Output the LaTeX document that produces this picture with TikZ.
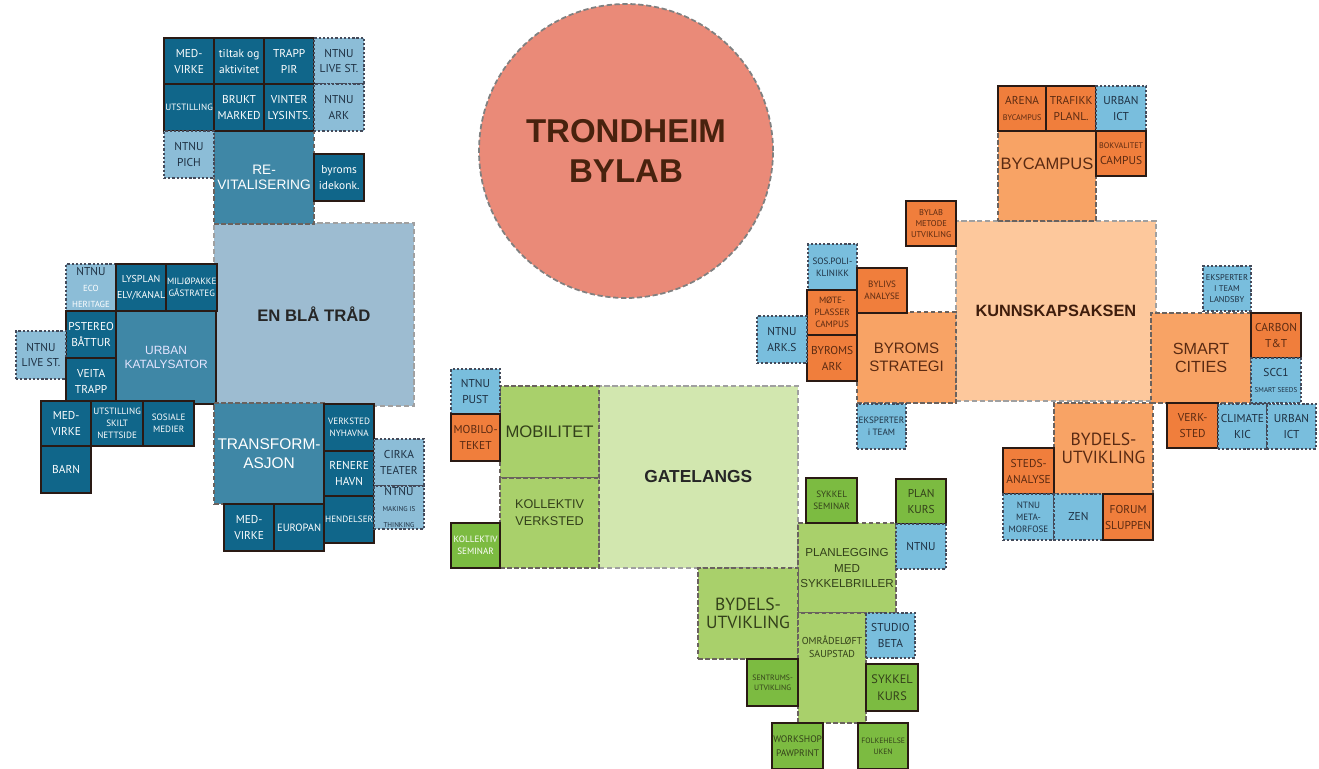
\documentclass[tikz,border=0pt]{standalone}
\usepackage{fontspec}
\setmainfont{Liberation Sans}
\newfontfamily\myriad{PT Sans}
\usepackage{tikz}
\usetikzlibrary{shapes}

\definecolor{blueDark}{HTML}{10668A}
\definecolor{blueMid}{HTML}{3F87A6}
\definecolor{bluePale}{HTML}{8CBDD7}
\definecolor{blueGrey}{HTML}{9DBCD1}
\definecolor{skyBlue}{HTML}{79BEDD}
\definecolor{orangeDark}{HTML}{F07E3C}
\definecolor{orangeMid}{HTML}{F8A365}
\definecolor{orangePale}{HTML}{FDC89C}
\definecolor{salmon}{HTML}{EA8A78}
\definecolor{greenDark}{HTML}{7CBB41}
\definecolor{greenMid}{HTML}{A9D06B}
\definecolor{greenPale}{HTML}{D2E7AF}
\definecolor{edgeDark}{HTML}{2A1A14}
\definecolor{edgeDot}{HTML}{434A5A}
\definecolor{edgeDash}{HTML}{6A625E}
\definecolor{edgeLight}{HTML}{A0A0A0}
\definecolor{textBrown}{HTML}{5A2A12}
\definecolor{textNavy}{HTML}{1E3042}
\definecolor{textOlive}{HTML}{33401A}

\begin{document}
\begin{tikzpicture}[
    x=0.02cm, y=-0.02cm,
    cell/.style 2 args={minimum width=#1*0.02cm, minimum height=#2*0.02cm},
    every node/.style={
        align=center, anchor=north west, inner sep=0.5pt,
        font=\myriad\fontsize{6.5}{9}\selectfont,
        },
    tinyText/.style={font=\myriad\fontsize{5.2}{6.8}\selectfont},
    solidBox/.style={draw=edgeDark, line width=1.3pt},
    dotBox/.style={draw=edgeDot, line width=1.1pt, dash pattern=on 1.3pt off 1.1pt},
    dashBox/.style={draw=edgeDash, line width=1.2pt, dash pattern=on 2.6pt off 1.4pt},
    paleBox/.style={draw=edgeLight, line width=1pt, dash pattern=on 3pt off 1.5pt},
    darkBlue/.style={solidBox, fill=blueDark, text=white},
    paleBlue/.style={dotBox, fill=bluePale, text=textNavy},
    midBlue/.style={dashBox, fill=blueMid, text=white},
    sky/.style={dotBox, fill=skyBlue, text=textNavy},
    darkOrange/.style={solidBox, fill=orangeDark, text=textBrown},
    midOrange/.style={dashBox, fill=orangeMid, text=textBrown},
    darkGreen/.style={solidBox, fill=greenDark, text=textOlive},
    midGreen/.style={dashBox, fill=greenMid, text=textOlive},
    bigLabel/.style={font=\bfseries\fontsize{9.5}{11}\selectfont},
    ]
    \useasboundingbox (0,0) rectangle (1319,768);

    % title circle
    \node[circle, anchor=center, minimum size=294*0.02cm, fill=salmon, draw=edgeLight!80!black, line width=1pt, dash pattern=on 3pt off 1.5pt, text=textBrown!80!black, font=\bfseries\fontsize{18.8}{23}\selectfont] (bylab) at (626,151) {TRONDHEIM\\BYLAB};

    % en blaa traad
    \node[paleBox, cell={200}{183}, fill=blueGrey, text=black!85, bigLabel] (blaTrad) at (213,222) {EN BLÅ TRÅD};
    \node[midBlue, cell={100}{93}, font=\fontsize{7.8}{8.8}\selectfont] (revital) at (213,130) {RE-\\VITALISERING};
    \node[solidBox, fill=blueMid, text=white!90!blue, cell={100}{93}, font=\fontsize{6.8}{8}\selectfont] (urbanKat) at (115,310) {URBAN\\KATALYSATOR};
    \node[midBlue, cell={110}{101}, font=\fontsize{8.8}{10.4}\selectfont] (transform) at (213,402) {TRANSFORM-\\ASJON};

    \node[darkBlue, cell={50}{46}] (medvirkeA) at (163,37) {MED-\\VIRKE};
    \node[darkBlue, cell={50}{46}] (tiltak) at (213,37) {tiltak og\\aktivitet};
    \node[darkBlue, cell={50}{46}] (trappPir) at (263,37) {TRAPP\\PIR};
    \node[paleBlue, cell={50}{46}] (liveStA) at (313,37) {NTNU\\LIVE ST.};
    \node[darkBlue, cell={50}{47}, tinyText] (utstillingA) at (163,83) {UTSTILLING};
    \node[darkBlue, cell={50}{47}] (bruktMarked) at (213,83) {BRUKT\\MARKED};
    \node[darkBlue, cell={50}{47}] (vinter) at (263,83) {VINTER\\LYSINTS.};
    \node[paleBlue, cell={50}{47}] (ntnuArk) at (313,83) {NTNU\\ARK};
    \node[paleBlue, cell={50}{47}] (ntnuPich) at (163,130) {NTNU\\PICH};
    \node[darkBlue, cell={50}{47}] (byroms) at (313,153) {byroms\\idekonk.};

    \node[paleBlue, cell={50}{47}] (ecoHeritage) at (65,263) {NTNU\\\textcolor{white}{\fontsize{5}{6.5}\selectfont ECO}\\\textcolor{white}{\fontsize{5}{6.5}\selectfont HERITAGE}};
    \node[darkBlue, cell={50}{47}, font=\myriad\fontsize{5.7}{9}\selectfont] (lysplan) at (115,263) {LYSPLAN\\ELV/KANAL};
    \node[darkBlue, cell={50}{47}, tinyText] (miljo) at (165,263) {MILJØPAKKE\\GÅSTRATEG};
    \node[darkBlue, cell={50}{47}] (pstereo) at (65,310) {PSTEREO\\BÅTTUR};
    \node[paleBlue, cell={50}{48}] (liveStB) at (15,330) {NTNU\\LIVE ST.};
    \node[darkBlue, cell={50}{46}] (veita) at (65,357) {VEITA\\TRAPP};

    \node[darkBlue, cell={50}{45}] (medvirkeB) at (40,400) {MED-\\VIRKE};
    \node[darkBlue, cell={52}{45}, tinyText] (utstillingB) at (90,400) {UTSTILLING\\SKILT\\NETTSIDE};
    \node[darkBlue, cell={51}{45}, tinyText] (sosiale) at (142,400) {SOSIALE\\MEDIER};
    \node[darkBlue, cell={50}{47}] (barn) at (40,445) {BARN};

    \node[darkBlue, cell={50}{47}, tinyText] (verksted) at (323,403) {VERKSTED\\NYHAVNA};
    \node[darkBlue, cell={50}{45}] (renere) at (323,450) {RENERE\\HAVN};
    \node[darkBlue, cell={50}{47}, tinyText] (hendelser) at (323,495) {HENDELSER};
    \node[paleBlue, cell={50}{47}] (cirka) at (373,438) {CIRKA\\TEATER};
    \node[paleBlue, cell={50}{43}] (making) at (373,485) {NTNU\\{\fontsize{4}{5}\selectfont MAKING IS}\\{\fontsize{4}{5}\selectfont THINKING}};
    \node[darkBlue, cell={50}{47}] (medvirkeC) at (223,503) {MED-\\VIRKE};
    \node[darkBlue, cell={50}{47}, font=\myriad\fontsize{6}{9}\selectfont] (europan) at (273,503) {EUROPAN};

    % gatelangs
    \node[paleBox, cell={199}{182}, fill=greenPale, text=black!85, font=\bfseries\fontsize{9.9}{11}\selectfont] (gatelangs) at (598,385) {GATELANGS};
    \node[midGreen, cell={99}{92}, font=\fontsize{9.5}{11}\selectfont] (mobilitet) at (499,385) {MOBILITET};
    \node[midGreen, cell={99}{90}, font=\fontsize{7.2}{9.5}\selectfont, text depth=12pt] (kollVerk) at (499,477) {KOLLEKTIV\\VERKSTED};
    \node[midGreen, cell={98}{90}, font=\fontsize{6.6}{8.8}\selectfont] (planlegging) at (797,522) {PLANLEGGING\\MED\\SYKKELBRILLER};
    \node[midGreen, cell={100}{91}, font=\myriad\fontsize{10}{10.5}\selectfont] (bydelsG) at (697,567) {BYDELS-\\UTVIKLING};
    \node[midGreen, cell={68}{110}, font=\myriad\fontsize{5.7}{7.5}\selectfont, text depth=24pt] (omrade) at (797,612) {OMRÅDELØFT\\SAUPSTAD};

    \node[sky, cell={49}{45}] (ntnuPust) at (450,368) {NTNU\\PUST};
    \node[darkOrange, cell={49}{47}] (mobiloteket) at (450,413) {MOBILO-\\TEKET};
    \node[darkGreen, cell={49}{45}, tinyText, text=white] (kollSem) at (450,522) {KOLLEKTIV\\SEMINAR};
    \node[darkGreen, cell={51}{45}, tinyText] (sykkelSem) at (805,477) {SYKKEL\\SEMINAR};
    \node[darkGreen, cell={50}{45}] (planKurs) at (895,478) {PLAN\\KURS};
    \node[sky, cell={50}{45}] (ntnuG) at (895,523) {NTNU};
    \node[sky, cell={49}{45}] (studio) at (865,612) {STUDIO\\BETA};
    \node[darkGreen, cell={51}{47}, font=\myriad\fontsize{4.4}{6}\selectfont] (sentrum) at (746,658) {SENTRUMS-\\UTVIKLING};
    \node[darkGreen, cell={52}{47}, font=\myriad\fontsize{7}{9.5}\selectfont] (sykkelKurs) at (865,663) {SYKKEL\\KURS};
    \node[darkGreen, cell={51}{46}, font=\myriad\fontsize{5.4}{7.5}\selectfont] (workshop) at (771,722) {WORKSHOP\\PAWPRINT};
    \node[darkGreen, cell={50}{46}, font=\myriad\fontsize{4.4}{6}\selectfont] (folkehelse) at (857,722) {FOLKEHELSE\\UKEN};

    % kunnskapsaksen
    \node[paleBox, cell={200}{180}, fill=orangePale, text=textBrown!70!black, font=\bfseries\fontsize{9.3}{11}\selectfont] (kunnskap) at (955,220) {KUNNSKAPSAKSEN};
    \node[midOrange, cell={98}{90}, font=\fontsize{9.4}{11}\selectfont, text depth=14pt] (bycampus) at (997,130) {BYCAMPUS};
    \node[midOrange, cell={99}{91}, font=\fontsize{8.6}{10.4}\selectfont] (byromsStrat) at (856,311) {BYROMS\\STRATEGI};
    \node[midOrange, cell={100}{90}, font=\fontsize{9.2}{10.5}\selectfont] (smart) at (1150,312) {SMART\\CITIES};
    \node[midOrange, cell={99}{91}, font=\myriad\fontsize{10}{10.5}\selectfont] (bydelsO) at (1053,402) {BYDELS-\\UTVIKLING};

    \node[darkOrange, cell={48}{45}] (arena) at (997,85) {ARENA\\{\fontsize{4.6}{6}\selectfont BYCAMPUS}};
    \node[darkOrange, cell={50}{45}] (trafikk) at (1045,85) {TRAFIKK\\PLANL.};
    \node[sky, cell={50}{45}] (urbanIctA) at (1095,85) {URBAN\\ICT};
    \node[darkOrange, cell={50}{45}] (bokvalitet) at (1095,130) {{\fontsize{4.6}{6}\selectfont BOKVALITET}\\CAMPUS};
    \node[darkOrange, cell={50}{45}, font=\myriad\fontsize{4.8}{6.4}\selectfont] (bylabMetode) at (905,200) {BYLAB\\METODE\\UTVIKLING};

    \node[sky, cell={49}{46}, tinyText] (sosPoli) at (807,243) {SOS.POLI-\\KLINIKK};
    \node[darkOrange, cell={50}{45}, tinyText] (bylivs) at (856,267) {BYLIVS\\ANALYSE};
    \node[darkOrange, cell={50}{45}, tinyText] (moteplasser) at (806,289) {MØTE-\\PLASSER\\CAMPUS};
    \node[darkOrange, cell={50}{46}] (byromsArk) at (806,334) {BYROMS\\ARK};
    \node[sky, cell={50}{47}] (ntnuArkS) at (756,315) {NTNU\\ARK.S};
    \node[sky, cell={49}{45}, tinyText] (eksperter) at (856,403) {EKSPERTER\\i TEAM};

    \node[sky, cell={48}{45}, font=\myriad\fontsize{4.8}{6.4}\selectfont] (ekspLandsby) at (1202,265) {EKSPERTER\\I TEAM\\LANDSBY};
    \node[darkOrange, cell={50}{45}] (carbon) at (1250,312) {CARBON\\T\&T};
    \node[sky, cell={50}{45}] (scc) at (1250,357) {SCC1\\{\fontsize{4}{5}\selectfont SMART SEEDS}};
    \node[darkOrange, cell={51}{45}] (verkStedO) at (1166,402) {VERK-\\STED};
    \node[sky, cell={49}{45}] (climate) at (1217,403) {CLIMATE\\KIC};
    \node[sky, cell={49}{45}] (urbanIctB) at (1266,403) {URBAN\\ICT};

    \node[darkOrange, cell={51}{46}] (stedsAnalyse) at (1002,447) {STEDS-\\ANALYSE};
    \node[sky, cell={51}{46}, tinyText] (metamorfose) at (1002,493) {NTNU\\META-\\MORFOSE};
    \node[sky, cell={49}{46}] (zen) at (1053,493) {ZEN};
    \node[darkOrange, cell={50}{46}] (forum) at (1102,493) {FORUM\\SLUPPEN};
\end{tikzpicture}
\end{document}
